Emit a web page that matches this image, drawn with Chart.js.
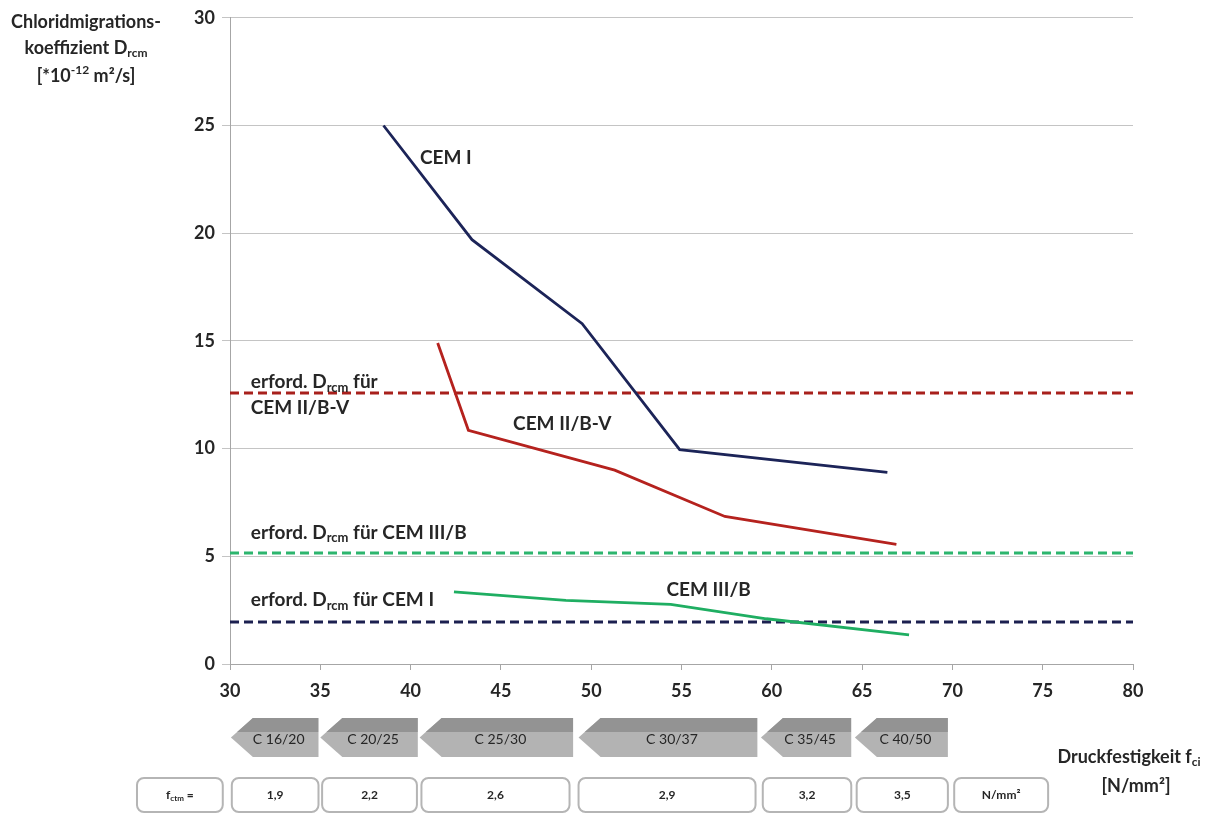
<!DOCTYPE html>
<html>
<head>
<meta charset="utf-8">
<script src="https://cdn.jsdelivr.net/npm/chart.js@4.4.0/dist/chart.umd.min.js"></script>
<style>
html, body { margin: 0; padding: 0; background: #fff; }
</style>
</head>
<body>
<canvas id="myChart" width="1219" height="814"></canvas>
<script>
var FONT = 'Lato, "Open Sans", sans-serif';

// measured curves (x = Druckfestigkeit, y = Drcm)
var cem1X = [38.5, 43.4, 49.5, 54.9, 66.4];
var cem1Y = [25.0, 19.7, 15.8, 9.95, 8.9];
var cem2X = [41.5, 43.2, 51.3, 57.4, 66.9];
var cem2Y = [14.9, 10.85, 9.0, 6.85, 5.55];
var cem3X = [42.4, 48.6, 54.4, 59.7, 67.6];
var cem3Y = [3.35, 2.95, 2.77, 2.1, 1.35];

// required values (dashed lines)
var reqCem2 = 12.58;
var reqCem3 = 5.15;
var reqCem1 = 1.95;

// labels inside the plot
var labelTexts = ['CEM I', 'CEM II/B-V', 'CEM III/B', 'erford. D_{rcm} für', 'CEM II/B-V', 'erford. D_{rcm} für CEM III/B', 'erford. D_{rcm} für CEM I'];
var labelX = [41.95, 48.4, 56.5, 31.15, 31.15, 31.15, 31.15];
var labelY = [23.5, 11.15, 3.43, 13.1, 11.9, 6.1, 2.96];
var labelAlign = ['center', 'center', 'center', 'left', 'left', 'left', 'left'];

// strength classes below the x axis
var classLabels = ['C 16/20', 'C 20/25', 'C 25/30', 'C 30/37', 'C 35/45', 'C 40/50'];
var classFrom = [30.05, 35.0, 40.5, 49.3, 59.4, 64.6];
var classTo = [34.9, 40.4, 49.0, 59.2, 64.4, 69.75];

// fctm boxes
var fctmLabels = ['f_{ctm} =', '1,9', '2,2', '2,6', '2,9', '3,2', '3,5', 'N/mm²'];
var fctmFrom = [24.85, 30.1, 35.1, 40.6, 49.3, 59.5, 64.7, 70.1];
var fctmTo = [29.6, 34.9, 40.35, 48.8, 59.1, 64.4, 69.75, 75.3];

function pts(xs, ys) {
    return xs.map(function(x, i) { return { x: x, y: ys[i] }; });
}

function flat(v) {
    return [{ x: 30, y: v }, { x: 80, y: v }];
}

// draw text with _{sub} and ^{sup} parts
function richText(ctx, str, x, y, size, align, weight) {
    weight = weight || 'bold';
    var parts = str.split(/(_\{[^}]*\}|\^\{[^}]*\})/).filter(function(p) { return p.length; });
    var small = Math.round(size * 0.68);
    var items = parts.map(function(p) {
        var kind = 'n', t = p;
        if (p.indexOf('_{') === 0) { kind = 'sub'; t = p.slice(2, -1); }
        if (p.indexOf('^{') === 0) { kind = 'sup'; t = p.slice(2, -1); }
        ctx.font = weight + ' ' + (kind === 'n' ? size : small) + 'px ' + FONT;
        return { t: t, kind: kind, w: ctx.measureText(t).width };
    });
    var total = items.reduce(function(a, b) { return a + b.w; }, 0);
    var cx = align === 'center' ? x - total / 2 : (align === 'right' ? x - total : x);
    ctx.textAlign = 'left';
    ctx.textBaseline = 'middle';
    items.forEach(function(it) {
        ctx.font = weight + ' ' + (it.kind === 'n' ? size : small) + 'px ' + FONT;
        var dy = it.kind === 'sub' ? size * 0.3 : (it.kind === 'sup' ? -size * 0.3 : 0);
        ctx.fillText(it.t, cx, y + dy);
        cx += it.w;
    });
}

var extras = {
    id: 'extras',
    afterDraw: function(chart) {
        var ctx = chart.ctx;
        var xs = chart.scales.x, ys = chart.scales.y;
        ctx.save();
        ctx.fillStyle = '#262626';

        // in-plot labels
        labelTexts.forEach(function(t, i) {
            richText(ctx, t, xs.getPixelForValue(labelX[i]), ys.getPixelForValue(labelY[i]), 19, labelAlign[i]);
        });

        // axis titles
        richText(ctx, 'Chloridmigrations-', 86, 22, 18, 'center');
        richText(ctx, 'koeffizient D_{rcm}', 86, 48, 18, 'center');
        richText(ctx, '[*10^{-12} m²/s]', 86, 76, 18, 'center');
        richText(ctx, 'Druckfestigkeit f_{ci}', 1129, 757, 18, 'center');
        richText(ctx, '[N/mm²]', 1136, 786, 18, 'center');

        // class arrows
        var top = 718, bot = 757, mid = (top + bot) / 2;
        classLabels.forEach(function(lbl, i) {
            var l = xs.getPixelForValue(classFrom[i]);
            var r = xs.getPixelForValue(classTo[i]);
            ctx.save();
            ctx.beginPath();
            ctx.moveTo(l, mid);
            ctx.lineTo(l + 22, top);
            ctx.lineTo(r, top);
            ctx.lineTo(r, bot);
            ctx.lineTo(l + 22, bot);
            ctx.closePath();
            ctx.fillStyle = '#b3b3b3';
            ctx.fill();
            ctx.clip();
            ctx.fillStyle = '#939393';
            ctx.fillRect(l, top, r - l, 14);
            ctx.restore();
            ctx.fillStyle = '#262626';
            richText(ctx, lbl, (l + r) / 2 + 4, mid + 2, 14, 'center', 'normal');
        });

        // fctm boxes
        var bTop = 778, bBot = 812;
        fctmLabels.forEach(function(lbl, i) {
            var l = xs.getPixelForValue(fctmFrom[i]);
            var r = xs.getPixelForValue(fctmTo[i]);
            ctx.beginPath();
            ctx.roundRect(l, bTop, r - l, bBot - bTop, 7);
            ctx.fillStyle = '#fff';
            ctx.fill();
            ctx.lineWidth = 2;
            ctx.strokeStyle = '#b5b5b5';
            ctx.stroke();
            ctx.fillStyle = '#262626';
            richText(ctx, lbl, (l + r) / 2, (bTop + bBot) / 2, 12, 'center');
        });
        ctx.restore();
    }
};

var ctx = document.getElementById('myChart').getContext('2d');

var myChart = new Chart(ctx, {
    type: 'line',
    data: {
        datasets: [
            { label: 'CEM I', data: pts(cem1X, cem1Y), borderColor: '#1c2458', borderWidth: 2.8 },
            { label: 'CEM II/B-V', data: pts(cem2X, cem2Y), borderColor: '#b5221e', borderWidth: 2.8 },
            { label: 'CEM III/B', data: pts(cem3X, cem3Y), borderColor: '#1fae62', borderWidth: 2.8 },
            { label: 'erf. CEM II/B-V', data: flat(reqCem2), borderColor: '#a8201c', borderWidth: 3, borderDash: [9, 5] },
            { label: 'erf. CEM III/B', data: flat(reqCem3), borderColor: '#2db56e', borderWidth: 3, borderDash: [9, 5] },
            { label: 'erf. CEM I', data: flat(reqCem1), borderColor: '#1c2050', borderWidth: 3, borderDash: [9, 5] }
        ]
    },
    options: {
        responsive: false,
        animation: false,
        elements: {
            point: { radius: 0 },
            line: { tension: 0, fill: false }
        },
        plugins: {
            legend: { display: false },
            tooltip: { enabled: false }
        },
        layout: {
            padding: { left: 0, right: 86, top: 17, bottom: 0 }
        },
        scales: {
            x: {
                type: 'linear',
                min: 30,
                max: 80,
                ticks: { stepSize: 5, color: '#262626', padding: 10, font: { family: FONT, size: 18, weight: 'bold' } },
                grid: { drawOnChartArea: false, tickLength: 6, color: '#a6a6a6' },
                border: { color: '#a6a6a6' },
                afterFit: function(s) { s.height = 150; }
            },
            y: {
                min: 0,
                max: 30,
                ticks: { stepSize: 5, color: '#262626', padding: 7, font: { family: FONT, size: 18, weight: 'bold' } },
                grid: { color: '#c4c4c4', tickLength: 8 },
                border: { color: '#a6a6a6' },
                afterFit: function(s) { s.width = 230; }
            }
        }
    },
    plugins: [extras]
});
</script>
</body>
</html>
